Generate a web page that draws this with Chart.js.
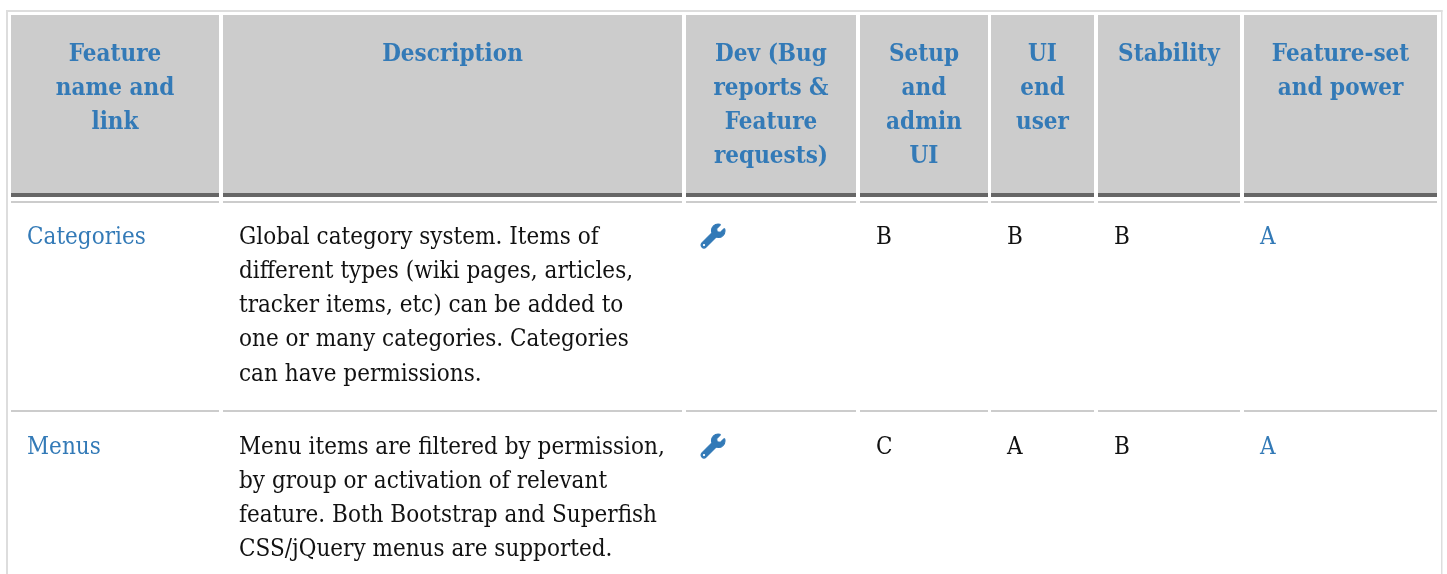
<!DOCTYPE html>
<html><head><meta charset="utf-8">
<style>html,body{margin:0;padding:0;background:#fff;overflow:hidden}canvas{display:block}</style>
<script src="https://cdn.jsdelivr.net/npm/chart.js@4/dist/chart.umd.min.js"></script>
</head><body><canvas id="c" width="1447" height="574"></canvas>
<script>
const headers = [["Feature","name and","link"],["Description"],["Dev (Bug","reports &","Feature","requests)"],["Setup","and","admin","UI"],["UI","end","user"],["Stability"],["Feature-set","and power"]];
const featureNames = ["Categories","Menus"];
const descriptions = [
 ["Global category system. Items of","different types (wiki pages, articles,","tracker items, etc) can be added to","one or many categories. Categories","can have permissions."],
 ["Menu items are filtered by permission,","by group or activation of relevant","feature. Both Bootstrap and Superfish","CSS/jQuery menus are supported."]
];
const setupGrades = ["B","C"];
const uiGrades = ["B","A"];
const stabilityGrades = ["B","B"];
const powerGrades = ["A","A"];

const FONT='"DejaVu Serif"', LINK='#337ab7', TEXT='#111', LH=34.29, SX=0.9231;
const colX=[[11,219],[223,682],[686,856],[860,988],[991,1094],[1098,1240],[1244,1437]];
const padX=[27,239,700,876,1007,1114,1260];
const rowTop=[236,446];

const wrench='M507.73 109.1c-2.24-9.03-13.54-12.09-20.12-5.51l-74.36 74.36-67.88-11.31-11.31-67.88 74.36-74.36c6.62-6.62 3.43-17.9-5.66-20.16-47.38-11.74-99.55.91-136.58 37.93-39.64 39.64-50.55 97.1-34.05 147.2L18.74 402.76c-24.99 24.99-24.99 65.51 0 90.5 24.99 24.99 65.51 24.99 90.5 0l213.21-213.21c50.12 16.71 107.47 5.68 147.37-34.22 37.07-37.07 49.7-89.32 37.91-136.73zM64 472c-13.25 0-24-10.75-24-24 0-13.26 10.75-24 24-24s24 10.74 24 24c0 13.25-10.75 24-24 24z';
const icon=document.createElement('canvas');icon.width=26;icon.height=26;
{const g=icon.getContext('2d');g.translate(1,1);g.scale(24/512,24/512);g.fillStyle=LINK;g.strokeStyle=LINK;g.lineWidth=22;const p=new Path2D(wrench);g.fill(p,'evenodd');g.stroke(new Path2D(wrench.split('zM')[0]+'z'));}

const tablePlugin={id:'table',beforeDatasetsDraw(chart){
 const c=chart.ctx,X=chart.scales.x,Y=chart.scales.y;
 const rect=(x0,y0,x1,y1,col)=>{const a=X.getPixelForValue(x0),b=Y.getPixelForValue(y0);c.fillStyle=col;c.fillRect(a,b,X.getPixelForValue(x1)-a,Y.getPixelForValue(y1)-b);};
 const text=(s,x,y,col,font,al)=>{c.save();c.font=font;c.fillStyle=col;c.textAlign=al;c.textBaseline='alphabetic';c.translate(X.getPixelForValue(x),Y.getPixelForValue(y));c.scale(SX,1);c.fillText(s,0,0);c.restore();};
 c.save();
 rect(6,10,1442.5,12,'#ddd');rect(6,10,8,574,'#ddd');rect(1441,10,1442.5,574,'#ddd');
 colX.forEach(([a,b],i)=>{
  rect(a,15,b,193,'#ccc');rect(a,193,b,197,'#666');rect(a,201,b,203,'#ccc');rect(a,410,b,412,'#ccc');
  headers[i].forEach((s,j)=>text(s,(a+b)/2,60.5+j*LH,LINK,'bold 23.4px '+FONT,'center'));
 });
 const body='23.4px '+FONT;
 featureNames.forEach((s,r)=>{
  const base=rowTop[r]+7.5;
  text(s,padX[0],base,LINK,body,'left');
  descriptions[r].forEach((l,j)=>text(l,padX[1],base+j*LH,TEXT,body,'left'));
  text(setupGrades[r],padX[3],base,TEXT,body,'left');
  text(uiGrades[r],padX[4],base,TEXT,body,'left');
  text(stabilityGrades[r],padX[5],base,TEXT,body,'left');
  text(powerGrades[r],padX[6],base,LINK,body,'left');
 });
 c.restore();
}};

new Chart(document.getElementById('c'),{
 type:'scatter',
 data:{datasets:[{data:rowTop.map(y=>({x:713,y})),pointStyle:icon,pointRadius:13,showLine:false}]},
 options:{responsive:false,animation:false,devicePixelRatio:1,layout:{padding:0,autoPadding:false},
  plugins:{legend:{display:false},tooltip:{enabled:false}},
  scales:{x:{type:'linear',display:false,min:0,max:1447},y:{type:'linear',display:false,min:0,max:574,reverse:true}}},
 plugins:[tablePlugin]
});
</script></body></html>
